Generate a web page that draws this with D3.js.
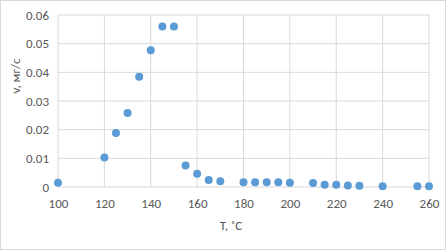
<!DOCTYPE html>
<html>
<head>
<meta charset="utf-8">
<script src="https://cdn.jsdelivr.net/npm/d3@7"></script>
<style>
  body { margin: 0; background: #fff; }
  text { font-family: Carlito, "Liberation Sans", "Noto Sans", sans-serif; }
</style>
</head>
<body>
<div id="chart"></div>
<script>
const width = 446
const height = 250
const margin = { top: 15, right: 17, bottom: 63, left: 58 }

const temps = [100, 120, 125, 130, 135, 140, 145, 150, 155, 160, 165, 170, 180, 185, 190, 195, 200, 210, 215, 220, 225, 230, 240, 255, 260]
const rates = [0.0015, 0.0103, 0.0188, 0.0258, 0.0385, 0.0477, 0.056, 0.056, 0.0075, 0.0046, 0.0024, 0.002, 0.0017, 0.0017, 0.0017, 0.0017, 0.0015, 0.0014, 0.0008, 0.0008, 0.0005, 0.0004, 0.0003, 0.0003, 0.0003]
const xTicks = [100, 120, 140, 160, 180, 200, 220, 240, 260]
const yTicks = [0, 0.01, 0.02, 0.03, 0.04, 0.05, 0.06]

const data = temps.map((t, i) => ({ t: t, v: rates[i] }))

const svg = d3.select('#chart').append('svg').attr('width', width).attr('height', height)

svg.append('rect')
  .attr('x', 0.5).attr('y', 0.5)
  .attr('width', width - 1).attr('height', height - 1)
  .attr('fill', '#fff').attr('stroke', '#d9d9d9')

const innerW = width - margin.left - margin.right
const innerH = height - margin.top - margin.bottom

const x = d3.scaleLinear().domain([100, 260]).range([0, innerW])
const y = d3.scaleLinear().domain([0, 0.06]).range([innerH, 0])

const g = svg.append('g').attr('transform', `translate(${margin.left}, ${margin.top})`)

// gridlines
g.append('g').selectAll('line').data(xTicks).join('line')
  .attr('x1', d => x(d)).attr('x2', d => x(d))
  .attr('y1', 0).attr('y2', innerH)
  .attr('stroke', '#d9d9d9')
g.append('g').selectAll('line').data(yTicks).join('line')
  .attr('x1', 0).attr('x2', innerW)
  .attr('y1', d => y(d)).attr('y2', d => y(d))
  .attr('stroke', '#d9d9d9')

const xAxis = d3.axisBottom(x).tickValues(xTicks).tickSize(0).tickPadding(12)
const yAxis = d3.axisLeft(y).tickValues(yTicks).tickSize(0).tickPadding(9)
  .tickFormat(d => d === 0 ? '0' : d3.format('.2f')(d))

g.append('g').attr('transform', `translate(0, ${innerH})`).call(xAxis)
g.append('g').call(yAxis)

svg.selectAll('.domain').remove()
svg.selectAll('.tick text').attr('fill', '#595959').attr('font-size', 13)
  .attr('font-family', 'Carlito, "Liberation Sans", sans-serif')

g.selectAll('circle').data(data).join('circle')
  .attr('cx', d => x(d.t))
  .attr('cy', d => y(d.v))
  .attr('r', 4)
  .attr('fill', '#5b9bd5')

svg.append('text')
  .attr('x', 231).attr('y', 230)
  .attr('text-anchor', 'middle')
  .attr('fill', '#595959').attr('font-size', 13)
  .text('T, ˚C')

svg.append('text')
  .attr('transform', 'translate(20, 76) rotate(-90)')
  .attr('text-anchor', 'middle')
  .attr('fill', '#595959').attr('font-size', 13)
  .text('v, мг/с')
</script>
</body>
</html>
